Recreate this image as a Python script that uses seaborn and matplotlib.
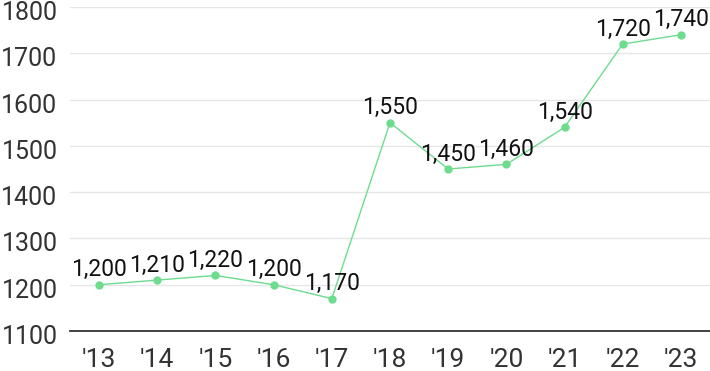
import matplotlib
matplotlib.use("Agg")
import matplotlib.pyplot as plt
import matplotlib.transforms as mtransforms
import seaborn as sns
import pandas as pd

years = ["'13", "'14", "'15", "'16", "'17", "'18", "'19", "'20", "'21", "'22", "'23"]
values = [1200, 1210, 1220, 1200, 1170, 1550, 1450, 1460, 1540, 1720, 1740]
yticks = [1100, 1200, 1300, 1400, 1500, 1600, 1700, 1800]

sns.set_theme(style="white")
plt.rcParams['font.family'] = ['Roboto', 'DejaVu Sans']

df = pd.DataFrame({"year": years, "value": values, "x": range(len(years))})

fig = plt.figure(figsize=(7.10, 3.71), dpi=100)
ax = fig.add_axes([70/710, 40/371, 640/710, 324/371])

line_color = "#6ddc8f"
sns.lineplot(data=df, x="x", y="value", ax=ax, color=line_color, linewidth=1,
             marker="o", markersize=6, markeredgewidth=0, markerfacecolor=line_color)

for xi, v in zip(df["x"], values):
    ax.annotate(f"{v:,}", (xi, v), xytext=(0, 6), textcoords="offset points",
                ha="center", va="baseline", fontsize=16.5, color="#111111")

ax.set_xlim(-0.5, len(years) - 0.5)
ax.set_ylim(1100, 1800)
ax.set_yticks(yticks)
ax.set_yticklabels([str(t) for t in yticks])
ax.set_xticks(range(len(years)))
ax.set_xticklabels(years)
ax.tick_params(axis="y", length=0, pad=9, labelsize=18, labelcolor="#333333")
ax.tick_params(axis="x", length=0, pad=12, labelsize=19, labelcolor="#333333")

offset = mtransforms.ScaledTranslation(0, -3.5 / 100, fig.dpi_scale_trans)
for lbl in ax.get_yticklabels():
    lbl.set_transform(lbl.get_transform() + offset)

ax.yaxis.grid(True, color="#e6e6e6", linewidth=1)
ax.xaxis.grid(False)
ax.set_xlabel("")
ax.set_ylabel("")
for s in ["top", "right", "left"]:
    ax.spines[s].set_visible(False)
ax.spines["bottom"].set_color("#333333")
ax.spines["bottom"].set_linewidth(1.3)
ax.set_axisbelow(True)

fig.savefig("out.png", dpi=100)
